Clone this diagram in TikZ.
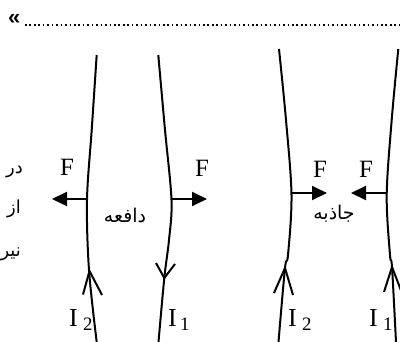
\documentclass[tikz,border=0pt]{standalone}
\usepackage{fontspec}
\setmainfont{Liberation Serif}
\newfontfamily\arabicfont[Script=Arabic]{DejaVu Sans}
\newfontfamily\quotefont{Liberation Sans}
\TeXXeTstate=1
\usetikzlibrary{arrows.meta}
\tikzset{
  wire/.style={line width=2bp, line join=round},
  chev/.style={line width=2bp, line join=miter},
  farrow/.style={line width=2bp, -{Triangle[length=15bp,width=14bp]}},
  flbl/.style={inner sep=0pt, anchor=base, font=\fontsize{25}{25}\selectfont},
  ilbl/.style={inner sep=0pt, anchor=base west, font=\fontsize{26}{26}\selectfont},
  sublbl/.style={inner sep=0pt, anchor=base west, font=\fontsize{19}{19}\selectfont},
  falbl/.style={inner sep=0pt, font=\arabicfont\fontsize{19}{19}\selectfont},
  sidelbl/.style={inner sep=0pt, anchor=base east, font=\arabicfont\fontsize{18}{18}\selectfont},
  dots/.style={line width=1.6bp, dash pattern=on 1.6bp off 2.85bp}
}
\begin{document}
\begin{tikzpicture}[x=1bp, y=-1bp]
\useasboundingbox (0,0) rectangle (400,342);
\clip (0,0) rectangle (400,342);
% top line
\node[inner sep=0pt, anchor=base west, font=\quotefont\bfseries\fontsize{22}{22}\selectfont] (q) at (8,24) {«};
\coordinate (d0) at (25,25);
\coordinate (d1) at (400,25);
\draw[dots] (d0) -- (d1);
% side text
\node[sidelbl] (s1) at (23,173) {\beginR در\endR};
\node[sidelbl] (s2) at (21,213) {\beginR از\endR};
\node[sidelbl] (s3) at (21,256) {\beginR نیر\endR};
% wires
\draw[wire] plot[smooth, tension=0.55] coordinates {(96.7,55) (91.7,130) (87,200) (89,270) (96.7,342)};
\draw[wire] plot[smooth, tension=0.55] coordinates {(158.3,55) (165,130) (171.5,200) (169,240) (164.3,278) (158.5,342)};
\draw[wire] plot[smooth, tension=0.55] coordinates {(279,49) (286,120) (291.5,195) (288,255) (285,268) (278.5,342)};
\draw[wire] plot[smooth, tension=0.55] coordinates {(398.3,49) (391.7,120) (386.7,195) (390,255) (392,267) (396,342)};
% current chevrons
\draw[chev] (83,294.5) -- (89.5,271) -- (102,295);
\draw[chev] (156,263) -- (164.3,278) -- (175,264);
\draw[chev] (274,293) -- (285,268) -- (293,295);
\draw[chev] (384,292) -- (392,267) -- (402,293);
% forces
\coordinate (wa) at (87,199);   \coordinate (ta) at (52,199);
\coordinate (wb) at (172,199);  \coordinate (tb) at (207,199);
\coordinate (wc) at (291.7,193); \coordinate (tc) at (327,193);
\coordinate (wd) at (387,193);  \coordinate (td) at (351,193);
\draw[farrow] (wa) -- (ta);
\draw[farrow] (wb) -- (tb);
\draw[farrow] (wc) -- (tc);
\draw[farrow] (wd) -- (td);
\node[flbl] (fa) at (67,175) {F};
\node[flbl] (fb) at (202,176) {F};
\node[flbl] (fc) at (320,177) {F};
\node[flbl] (fd) at (366,177) {F};
% persian labels
\node[falbl] (rep) at (125,215) {\beginR دافعه\endR};
\node[falbl] (att) at (334,214) {\beginR جاذبه\endR};
% current labels
\node[ilbl] (ia) at (69,326) {I};
\node[sublbl] (ja) at (83,330) {2};
\node[ilbl] (ib) at (168,326) {I};
\node[sublbl] (jb) at (180,330) {1};
\node[ilbl] (ic) at (288,326) {I};
\node[sublbl] (jc) at (302,330) {2};
\node[ilbl] (id) at (369,326) {I};
\node[sublbl] (jd) at (383,330) {1};
\end{tikzpicture}
\end{document}
